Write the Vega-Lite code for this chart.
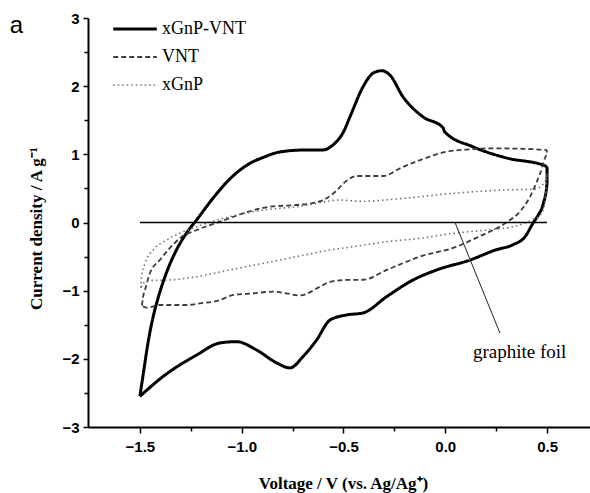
{
  "$schema": "https://vega.github.io/schema/vega-lite/v6.json",
  "width": 502,
  "height": 409,
  "autosize": {"type": "none"},
  "padding": {"left": 88, "top": 18, "right": 0, "bottom": 66},
  "background": "white",
  "config": {
    "view": {"stroke": null},
    "axis": {"grid": false, "domainColor": "black", "tickColor": "black", "labelColor": "black", "titleColor": "black"}
  },
  "resolve": {"axis": {"x": "independent", "y": "independent"}},
  "layer": [
    {
      "data": {"values": [
        {"series": "xGnP-VNT", "i": 1, "v": -1.5, "c": -2.55},
        {"series": "xGnP-VNT", "i": 2, "v": -1.48, "c": -2.15},
        {"series": "xGnP-VNT", "i": 3, "v": -1.46, "c": -1.76},
        {"series": "xGnP-VNT", "i": 4, "v": -1.44, "c": -1.45},
        {"series": "xGnP-VNT", "i": 5, "v": -1.41, "c": -1.1},
        {"series": "xGnP-VNT", "i": 6, "v": -1.37, "c": -0.74},
        {"series": "xGnP-VNT", "i": 7, "v": -1.32, "c": -0.4},
        {"series": "xGnP-VNT", "i": 8, "v": -1.27, "c": -0.15},
        {"series": "xGnP-VNT", "i": 9, "v": -1.221, "c": 0.04},
        {"series": "xGnP-VNT", "i": 10, "v": -1.14, "c": 0.36},
        {"series": "xGnP-VNT", "i": 11, "v": -1.058, "c": 0.64},
        {"series": "xGnP-VNT", "i": 12, "v": -0.97, "c": 0.85},
        {"series": "xGnP-VNT", "i": 13, "v": -0.89, "c": 0.96},
        {"series": "xGnP-VNT", "i": 14, "v": -0.812, "c": 1.035},
        {"series": "xGnP-VNT", "i": 15, "v": -0.7, "c": 1.063},
        {"series": "xGnP-VNT", "i": 16, "v": -0.6, "c": 1.065},
        {"series": "xGnP-VNT", "i": 17, "v": -0.552, "c": 1.136},
        {"series": "xGnP-VNT", "i": 18, "v": -0.5, "c": 1.33},
        {"series": "xGnP-VNT", "i": 19, "v": -0.468, "c": 1.551},
        {"series": "xGnP-VNT", "i": 20, "v": -0.404, "c": 1.99},
        {"series": "xGnP-VNT", "i": 21, "v": -0.355, "c": 2.19},
        {"series": "xGnP-VNT", "i": 22, "v": -0.312, "c": 2.226},
        {"series": "xGnP-VNT", "i": 23, "v": -0.272, "c": 2.163},
        {"series": "xGnP-VNT", "i": 24, "v": -0.208, "c": 1.845},
        {"series": "xGnP-VNT", "i": 25, "v": -0.11, "c": 1.551},
        {"series": "xGnP-VNT", "i": 26, "v": -0.011, "c": 1.39},
        {"series": "xGnP-VNT", "i": 27, "v": -0.003, "c": 1.33},
        {"series": "xGnP-VNT", "i": 28, "v": 0.136, "c": 1.111},
        {"series": "xGnP-VNT", "i": 29, "v": 0.302, "c": 0.946},
        {"series": "xGnP-VNT", "i": 30, "v": 0.49, "c": 0.833},
        {"series": "xGnP-VNT", "i": 31, "v": 0.5, "c": 0.8},
        {"series": "xGnP-VNT", "i": 32, "v": 0.5, "c": 0.575},
        {"series": "xGnP-VNT", "i": 33, "v": 0.482, "c": 0.282},
        {"series": "xGnP-VNT", "i": 34, "v": 0.457, "c": 0.11},
        {"series": "xGnP-VNT", "i": 35, "v": 0.433, "c": 0.0},
        {"series": "xGnP-VNT", "i": 36, "v": 0.392, "c": -0.208},
        {"series": "xGnP-VNT", "i": 37, "v": 0.33, "c": -0.33},
        {"series": "xGnP-VNT", "i": 38, "v": 0.25, "c": -0.4},
        {"series": "xGnP-VNT", "i": 39, "v": 0.122, "c": -0.55},
        {"series": "xGnP-VNT", "i": 40, "v": -0.042, "c": -0.696},
        {"series": "xGnP-VNT", "i": 41, "v": -0.158, "c": -0.843},
        {"series": "xGnP-VNT", "i": 42, "v": -0.288, "c": -1.088},
        {"series": "xGnP-VNT", "i": 43, "v": -0.404, "c": -1.327},
        {"series": "xGnP-VNT", "i": 44, "v": -0.484, "c": -1.356},
        {"series": "xGnP-VNT", "i": 45, "v": -0.566, "c": -1.43},
        {"series": "xGnP-VNT", "i": 46, "v": -0.632, "c": -1.723},
        {"series": "xGnP-VNT", "i": 47, "v": -0.699, "c": -1.968},
        {"series": "xGnP-VNT", "i": 48, "v": -0.763, "c": -2.133},
        {"series": "xGnP-VNT", "i": 49, "v": -0.828, "c": -2.06},
        {"series": "xGnP-VNT", "i": 50, "v": -0.927, "c": -1.87},
        {"series": "xGnP-VNT", "i": 51, "v": -1.025, "c": -1.748},
        {"series": "xGnP-VNT", "i": 52, "v": -1.107, "c": -1.767},
        {"series": "xGnP-VNT", "i": 53, "v": -1.221, "c": -1.943},
        {"series": "xGnP-VNT", "i": 54, "v": -1.387, "c": -2.261},
        {"series": "xGnP-VNT", "i": 55, "v": -1.5, "c": -2.55},

        {"series": "VNT", "i": 1, "v": -1.49, "c": -1.22},
        {"series": "VNT", "i": 2, "v": -1.485, "c": -1.1},
        {"series": "VNT", "i": 3, "v": -1.475, "c": -0.99},
        {"series": "VNT", "i": 4, "v": -1.451, "c": -0.745},
        {"series": "VNT", "i": 5, "v": -1.402, "c": -0.55},
        {"series": "VNT", "i": 6, "v": -1.36, "c": -0.4},
        {"series": "VNT", "i": 7, "v": -1.303, "c": -0.228},
        {"series": "VNT", "i": 8, "v": -1.221, "c": -0.11},
        {"series": "VNT", "i": 9, "v": -1.107, "c": 0.012},
        {"series": "VNT", "i": 10, "v": -0.992, "c": 0.135},
        {"series": "VNT", "i": 11, "v": -0.861, "c": 0.232},
        {"series": "VNT", "i": 12, "v": -0.73, "c": 0.257},
        {"series": "VNT", "i": 13, "v": -0.64, "c": 0.29},
        {"series": "VNT", "i": 14, "v": -0.58, "c": 0.36},
        {"series": "VNT", "i": 15, "v": -0.53, "c": 0.48},
        {"series": "VNT", "i": 16, "v": -0.49, "c": 0.6},
        {"series": "VNT", "i": 17, "v": -0.435, "c": 0.682},
        {"series": "VNT", "i": 18, "v": -0.304, "c": 0.682},
        {"series": "VNT", "i": 19, "v": -0.222, "c": 0.795},
        {"series": "VNT", "i": 20, "v": -0.124, "c": 0.916},
        {"series": "VNT", "i": 21, "v": 0.007, "c": 1.038},
        {"series": "VNT", "i": 22, "v": 0.122, "c": 1.073},
        {"series": "VNT", "i": 23, "v": 0.236, "c": 1.088},
        {"series": "VNT", "i": 24, "v": 0.367, "c": 1.082},
        {"series": "VNT", "i": 25, "v": 0.499, "c": 1.063},
        {"series": "VNT", "i": 26, "v": 0.5, "c": 0.99},
        {"series": "VNT", "i": 27, "v": 0.466, "c": 0.72},
        {"series": "VNT", "i": 28, "v": 0.417, "c": 0.38},
        {"series": "VNT", "i": 29, "v": 0.367, "c": 0.16},
        {"series": "VNT", "i": 30, "v": 0.3, "c": 0.0},
        {"series": "VNT", "i": 31, "v": 0.17, "c": -0.2},
        {"series": "VNT", "i": 32, "v": 0.06, "c": -0.35},
        {"series": "VNT", "i": 33, "v": -0.124, "c": -0.501},
        {"series": "VNT", "i": 34, "v": -0.288, "c": -0.696},
        {"series": "VNT", "i": 35, "v": -0.403, "c": -0.84},
        {"series": "VNT", "i": 36, "v": -0.484, "c": -0.843},
        {"series": "VNT", "i": 37, "v": -0.566, "c": -0.87},
        {"series": "VNT", "i": 38, "v": -0.615, "c": -0.941},
        {"series": "VNT", "i": 39, "v": -0.714, "c": -1.07},
        {"series": "VNT", "i": 40, "v": -0.78, "c": -1.04},
        {"series": "VNT", "i": 41, "v": -0.845, "c": -1.015},
        {"series": "VNT", "i": 42, "v": -0.95, "c": -1.04},
        {"series": "VNT", "i": 43, "v": -1.04, "c": -1.063},
        {"series": "VNT", "i": 44, "v": -1.12, "c": -1.15},
        {"series": "VNT", "i": 45, "v": -1.205, "c": -1.185},
        {"series": "VNT", "i": 46, "v": -1.27, "c": -1.21},
        {"series": "VNT", "i": 47, "v": -1.402, "c": -1.21},
        {"series": "VNT", "i": 48, "v": -1.467, "c": -1.25},
        {"series": "VNT", "i": 49, "v": -1.49, "c": -1.22},

        {"series": "xGnP", "i": 1, "v": -1.495, "c": -0.96},
        {"series": "xGnP", "i": 2, "v": -1.492, "c": -0.79},
        {"series": "xGnP", "i": 3, "v": -1.475, "c": -0.6},
        {"series": "xGnP", "i": 4, "v": -1.435, "c": -0.403},
        {"series": "xGnP", "i": 5, "v": -1.369, "c": -0.257},
        {"series": "xGnP", "i": 6, "v": -1.287, "c": -0.135},
        {"series": "xGnP", "i": 7, "v": -1.221, "c": -0.061},
        {"series": "xGnP", "i": 8, "v": -1.14, "c": 0.02},
        {"series": "xGnP", "i": 9, "v": -1.058, "c": 0.085},
        {"series": "xGnP", "i": 10, "v": -0.894, "c": 0.183},
        {"series": "xGnP", "i": 11, "v": -0.73, "c": 0.232},
        {"series": "xGnP", "i": 12, "v": -0.65, "c": 0.27},
        {"series": "xGnP", "i": 13, "v": -0.599, "c": 0.3},
        {"series": "xGnP", "i": 14, "v": -0.517, "c": 0.33},
        {"series": "xGnP", "i": 15, "v": -0.419, "c": 0.31},
        {"series": "xGnP", "i": 16, "v": -0.206, "c": 0.355},
        {"series": "xGnP", "i": 17, "v": 0.04, "c": 0.428},
        {"series": "xGnP", "i": 18, "v": 0.285, "c": 0.477},
        {"series": "xGnP", "i": 19, "v": 0.44, "c": 0.49},
        {"series": "xGnP", "i": 20, "v": 0.49, "c": 0.6},
        {"series": "xGnP", "i": 21, "v": 0.5, "c": 0.72},
        {"series": "xGnP", "i": 22, "v": 0.49, "c": 0.3},
        {"series": "xGnP", "i": 23, "v": 0.47, "c": 0.12},
        {"series": "xGnP", "i": 24, "v": 0.42, "c": 0.03},
        {"series": "xGnP", "i": 25, "v": 0.334, "c": -0.061},
        {"series": "xGnP", "i": 26, "v": 0.204, "c": -0.11},
        {"series": "xGnP", "i": 27, "v": 0.04, "c": -0.159},
        {"series": "xGnP", "i": 28, "v": -0.124, "c": -0.232},
        {"series": "xGnP", "i": 29, "v": -0.288, "c": -0.281},
        {"series": "xGnP", "i": 30, "v": -0.452, "c": -0.355},
        {"series": "xGnP", "i": 31, "v": -0.566, "c": -0.403},
        {"series": "xGnP", "i": 32, "v": -0.73, "c": -0.501},
        {"series": "xGnP", "i": 33, "v": -0.894, "c": -0.599},
        {"series": "xGnP", "i": 34, "v": -1.058, "c": -0.696},
        {"series": "xGnP", "i": 35, "v": -1.221, "c": -0.795},
        {"series": "xGnP", "i": 36, "v": -1.353, "c": -0.843},
        {"series": "xGnP", "i": 37, "v": -1.451, "c": -0.85},
        {"series": "xGnP", "i": 38, "v": -1.484, "c": -0.89},
        {"series": "xGnP", "i": 39, "v": -1.495, "c": -0.96}
      ]},
      "mark": {"type": "line", "interpolate": "monotone", "clip": false},
      "encoding": {
        "x": {"field": "v", "type": "quantitative", "scale": {"domain": [-1.755, 0.711], "nice": false, "zero": false},
          "axis": {"orient": "bottom", "values": [-1.5, -1, -0.5, 0, 0.5], "format": ".1f", "domainWidth": 2, "tickWidth": 1.5, "tickSize": 6, "labelFont": "Liberation Sans", "labelFontWeight": "bold", "labelFontSize": 15, "labelPadding": 6, "title": "Voltage / V (vs. Ag/Ag⁺)", "titleFont": "Liberation Serif", "titleFontWeight": "bold", "titleFontSize": 17, "titleY": 61, "titleBaseline": "alphabetic", "titleX": 255}},
        "y": {"field": "c", "type": "quantitative", "scale": {"domain": [-3, 3], "nice": false, "zero": false},
          "axis": {"orient": "left", "values": [-3, -2, -1, 0, 1, 2, 3], "domainWidth": 2, "tickWidth": 1.5, "tickSize": 5, "labelFont": "Liberation Sans", "labelFontWeight": "bold", "labelFontSize": 15, "labelPadding": 4, "title": "Current density / A g⁻¹", "titleFont": "Liberation Serif", "titleFontWeight": "bold", "titleFontSize": 17, "titleAngle": -90, "titleX": -47, "titleY": 210, "titleAlign": "center", "titleBaseline": "alphabetic"}},
        "order": {"field": "i", "type": "quantitative"},
        "color": {"field": "series", "type": "nominal", "scale": {"domain": ["xGnP-VNT", "VNT", "xGnP"], "range": ["#000000", "#3c3c3c", "#707070"]},
          "legend": {"title": null, "orient": "none", "legendX": 38, "legendY": 2, "padding": 0, "symbolType": "stroke", "symbolSize": 1900, "symbolStrokeWidth": 2, "labelFont": "Liberation Serif", "labelFontSize": 18, "labelColor": "black", "labelOffset": 18, "rowPadding": 10,
            "encode": {"symbols": {"update": {"strokeWidth": {"signal": "datum.value === 'xGnP-VNT' ? 3 : (datum.value === 'VNT' ? 1.8 : 1.6)"}}}}}},
        "strokeDash": {"field": "series", "type": "nominal", "scale": {"domain": ["xGnP-VNT", "VNT", "xGnP"], "range": [[1, 0], [5, 3], [1.5, 3]]},
          "legend": {"title": null, "orient": "none", "legendX": 38, "legendY": 2, "padding": 0, "symbolType": "stroke", "symbolSize": 1900, "symbolStrokeWidth": 2, "labelFont": "Liberation Serif", "labelFontSize": 18, "labelColor": "black", "labelOffset": 18, "rowPadding": 10,
            "encode": {"symbols": {"update": {"strokeWidth": {"signal": "datum.value === 'xGnP-VNT' ? 3 : (datum.value === 'VNT' ? 1.8 : 1.6)"}}}}}},
        "strokeWidth": {"condition": [{"test": "datum.series === 'xGnP-VNT'", "value": 3}, {"test": "datum.series === 'VNT'", "value": 1.8}], "value": 1.6}
      }
    },
    {
      "data": {"values": [{"v1": -1.5, "v2": 0.5, "c": 0}]},
      "mark": {"type": "rule", "color": "black", "strokeWidth": 1.5},
      "encoding": {
        "x": {"field": "v1", "type": "quantitative", "axis": {"orient": "bottom", "values": [-1.25, -0.75, -0.25, 0.25], "labels": false, "domain": false, "tickSize": 4, "tickWidth": 1.5, "title": null}},
        "x2": {"field": "v2"},
        "y": {"field": "c", "type": "quantitative", "axis": {"orient": "left", "values": [-2.5, -1.5, -0.5, 0.5, 1.5, 2.5], "labels": false, "domain": false, "tickSize": 4, "tickWidth": 1.5, "title": null}}
      }
    },
    {
      "data": {"values": [{"v1": 0.048, "c1": 0, "v2": 0.269, "c2": -1.625}]},
      "mark": {"type": "rule", "color": "#222222", "strokeWidth": 1},
      "encoding": {
        "x": {"field": "v1", "type": "quantitative", "axis": null},
        "y": {"field": "c1", "type": "quantitative", "axis": null},
        "x2": {"field": "v2"},
        "y2": {"field": "c2"}
      }
    },
    {
      "data": {"values": [
        {"v": 0.136, "c": -1.987, "label": "graphite foil"}
      ]},
      "mark": {"type": "text", "align": "left", "baseline": "alphabetic", "font": "Liberation Serif", "fontSize": 19, "color": "black"},
      "encoding": {
        "x": {"field": "v", "type": "quantitative", "axis": null},
        "y": {"field": "c", "type": "quantitative", "axis": null},
        "text": {"field": "label"}
      }
    },
    {
      "data": {"values": [
        {"v": -2.14, "c": 2.78, "label": "a"}
      ]},
      "mark": {"type": "text", "align": "left", "baseline": "alphabetic", "font": "Liberation Sans", "fontSize": 24, "color": "black", "clip": false},
      "encoding": {
        "x": {"field": "v", "type": "quantitative", "axis": null},
        "y": {"field": "c", "type": "quantitative", "axis": null},
        "text": {"field": "label"}
      }
    }
  ]
}
